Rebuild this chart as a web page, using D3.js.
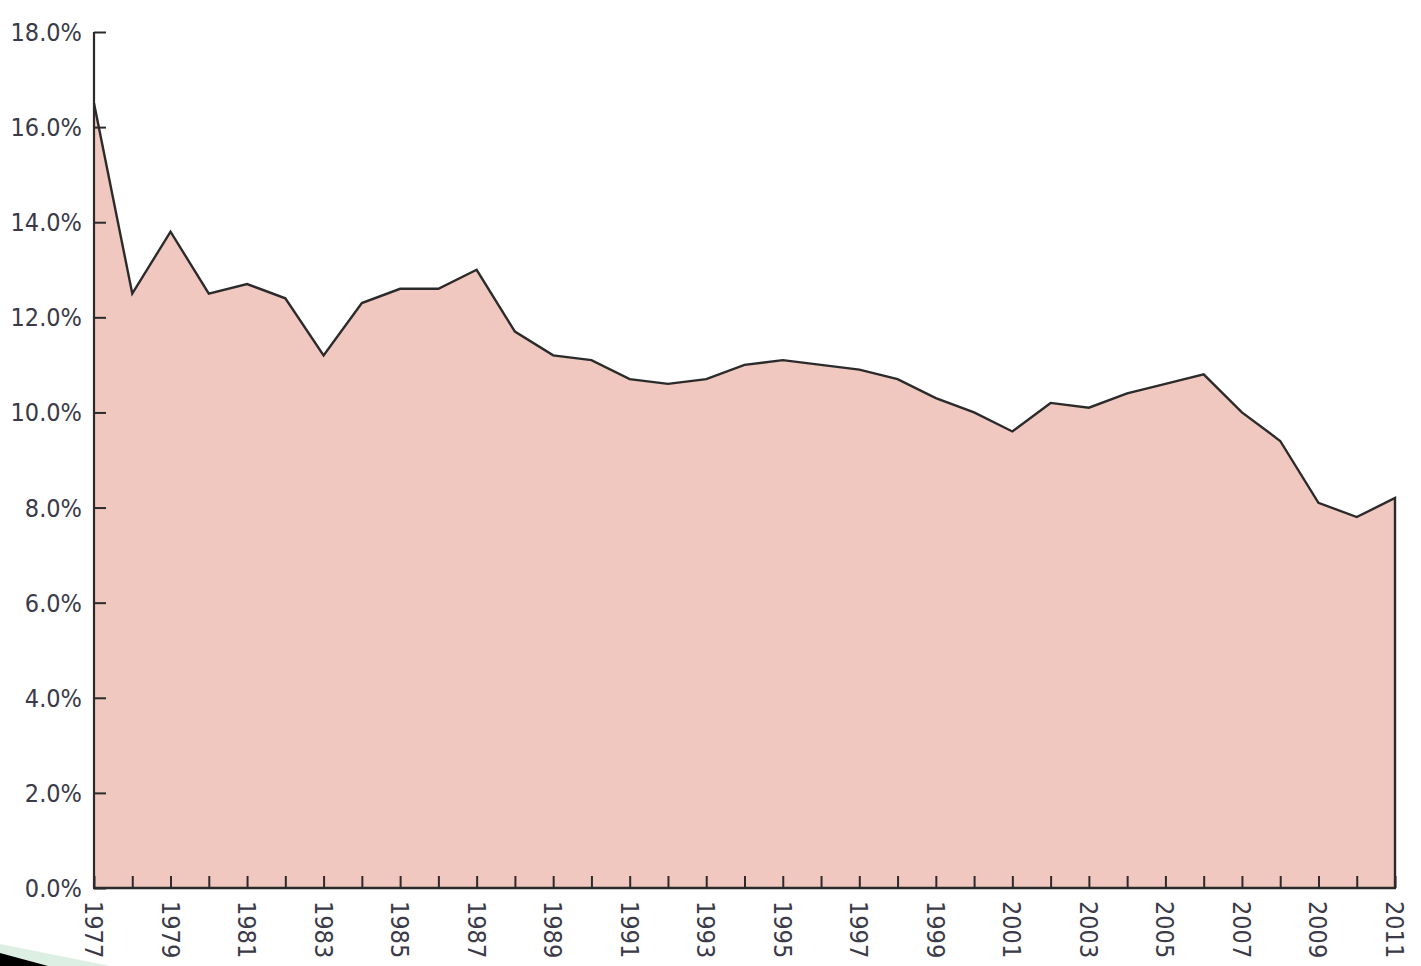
<!DOCTYPE html>
<html>
<head>
<meta charset="utf-8">
<script src="https://cdn.jsdelivr.net/npm/d3@7"></script>
<style>
  html, body { margin: 0; padding: 0; background: #fff; }
  svg { display: block; }
</style>
</head>
<body>
<script>
const years = d3.range(1977, 2012);
const values = [
  16.5, 12.5, 13.8, 12.5, 12.7, 12.4, 11.2, 12.3, 12.6, 12.6,
  13.0, 11.7, 11.2, 11.1, 10.7, 10.6, 10.7, 11.0, 11.1, 11.0,
  10.9, 10.7, 10.3, 10.0, 9.6, 10.2, 10.1, 10.4, 10.6, 10.8,
  10.0, 9.4, 8.1, 7.8, 8.2
];
const yTicks = [0, 2, 4, 6, 8, 10, 12, 14, 16, 18];
const xLabels = d3.range(1977, 2012, 2);

const width = 1421;
const height = 966;
const marginLeft = 94;
const marginRight = 26;
const marginTop = 32;
const marginBottom = 78;

const data = years.map((yr, i) => ({ year: yr, value: values[i] }));

const svg = d3.select("body")
  .append("svg")
  .attr("width", width)
  .attr("height", height);

const x = d3.scaleLinear()
  .domain([1977, 2011])
  .range([marginLeft, width - marginRight]);

const y = d3.scaleLinear()
  .domain([0, 18])
  .range([height - marginBottom, marginTop]);

const font = "'DejaVu Sans Condensed', 'Liberation Sans Narrow', sans-serif";

// filled area
svg.append("path")
  .datum(data)
  .attr("fill", "#f0c8bf")
  .attr("d", d3.area()
    .x(d => x(d.year))
    .y0(y(0))
    .y1(d => y(d.value)));

// outline along the top and down the right edge
svg.append("path")
  .datum(data)
  .attr("fill", "none")
  .attr("stroke", "#2b2b2b")
  .attr("stroke-width", 2.4)
  .attr("stroke-linejoin", "miter")
  .attr("d", d3.line()
    .x(d => x(d.year))
    .y(d => y(d.value))(data.concat([{ year: 2011, value: 0 }])));

// y axis, ticks point inward
const yAxis = svg.append("g")
  .attr("transform", "translate(" + marginLeft + ",0)")
  .call(d3.axisRight(y).tickValues(yTicks).tickSize(12).tickFormat(""));
yAxis.select(".domain").remove();
yAxis.selectAll("line").attr("stroke", "#2b2b2b").attr("stroke-width", 2);

svg.append("line")
  .attr("x1", marginLeft).attr("x2", marginLeft)
  .attr("y1", y(18)).attr("y2", y(0))
  .attr("stroke", "#2b2b2b").attr("stroke-width", 2.2);

svg.selectAll(".ylab")
  .data(yTicks)
  .enter().append("text")
  .attr("x", marginLeft - 12)
  .attr("y", d => y(d))
  .attr("dy", "0.36em")
  .attr("text-anchor", "end")
  .attr("fill", "#3a3a48")
  .style("font-family", font)
  .style("font-size", "25px")
  .text(d => d.toFixed(1) + "%");

// x axis, ticks every year pointing up
const xAxis = svg.append("g")
  .attr("transform", "translate(0," + y(0) + ")")
  .call(d3.axisTop(x).tickValues(years).tickSize(12).tickFormat(""));
xAxis.select(".domain").remove();
xAxis.selectAll("line").attr("stroke", "#2b2b2b").attr("stroke-width", 2);

svg.append("line")
  .attr("x1", marginLeft - 1).attr("x2", x(2011) + 1)
  .attr("y1", y(0)).attr("y2", y(0))
  .attr("stroke", "#2b2b2b").attr("stroke-width", 2.4);

svg.selectAll(".xlab")
  .data(xLabels)
  .enter().append("text")
  .attr("transform", d => "translate(" + x(d) + "," + (y(0) + 13) + ") rotate(90)")
  .attr("dy", "0.36em")
  .attr("text-anchor", "start")
  .attr("fill", "#3a3a48")
  .style("font-family", font)
  .style("font-size", "25px")
  .text(d => d);

// slide artefact in the lower left corner
svg.append("path")
  .attr("d", "M0,944 L110,966 L0,966 Z")
  .attr("fill", "#dcefe2");
svg.append("path")
  .attr("d", "M0,953 L48,966 L0,966 Z")
  .attr("fill", "#000");
</script>
</body>
</html>
